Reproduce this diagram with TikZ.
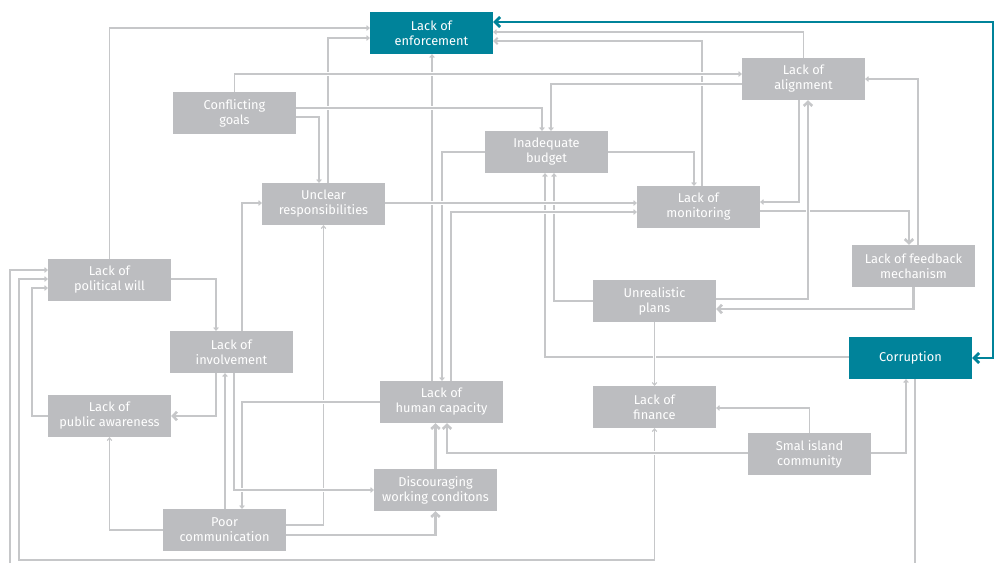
\documentclass[tikz,border=0pt]{standalone}
\usepackage{fontspec}
\setmainfont{Fira Sans}
\usetikzlibrary{arrows.meta}
\definecolor{boxc}{HTML}{BCBDC0}
\definecolor{lc}{HTML}{C6C7C9}
\definecolor{teal}{HTML}{00839A}
\begin{document}
\begin{tikzpicture}[x=1pt,y=-1pt,
  box/.style={fill=boxc, minimum width=123pt, minimum height=42pt, inner sep=0pt,
    text=white, align=center, font=\fontsize{12.8}{15}\selectfont},
  tbox/.style={box, fill=teal},
  halo/.style={preaction={draw=white, line width=#1, arrows=-}},
  ln/.style={draw=lc, line width=1.2pt, halo=3.2pt, -{Straight Barb[length=2.4pt,width=4.6pt]}},
  md/.style={draw=lc, line width=1.9pt, halo=4pt, -{Straight Barb[length=3.2pt,width=6.5pt]}},
  thk/.style={draw=lc, line width=2.6pt, halo=4.6pt, -{Straight Barb[length=4pt,width=8.5pt]}},
  tl/.style={draw=teal, line width=2.8pt, {Straight Barb[length=5pt,width=10pt]}-{Straight Barb[length=5pt,width=10pt]}},
  dbl/.style={ln, {Straight Barb[length=2.4pt,width=4.6pt]}-{Straight Barb[length=2.4pt,width=4.6pt]}},
  plain/.style={draw=lc, line width=1.2pt, halo=3.2pt}]
\useasboundingbox (0,0) rectangle (999,563);
% nodes
\node[tbox] (enf) at (431.5,33) {Lack of\\enforcement};
\node[box] (conf) at (234.5,113) {Conflicting\\goals};
\node[box] (align) at (803.5,79) {Lack of\\alignment};
\node[box] (budget) at (546.5,152) {Inadequate\\budget};
\node[box] (unclear) at (323.5,204) {Unclear\\responsibilities};
\node[box] (monit) at (698.5,207) {Lack of\\monitoring};
\node[box] (feed) at (913.5,266) {Lack of feedback\\mechanism};
\node[box] (polit) at (109.5,280) {Lack of\\political will};
\node[box] (unreal) at (654.5,301) {Unrealistic\\plans};
\node[box] (invol) at (231.5,352) {Lack of\\involvement};
\node[tbox] (corr) at (910.5,358) {Corruption};
\node[box] (human) at (441.5,402) {Lack of\\human capacity};
\node[box] (fin) at (654.5,407) {Lack of\\finance};
\node[box] (public) at (109.5,416) {Lack of\\public awareness};
\node[box] (small) at (809.5,454) {Smal island\\community};
\node[box] (disc) at (435.5,490) {Discouraging\\working conditons};
\node[box] (poor) at (224.5,530) {Poor\\communication};
\coordinate (bl) at (10,563);
\coordinate (br) at (915,563);
% connectors
\draw[tl] (enf.east |- 0,22) -- (993,22) -- (993,358) -- (corr.east);
\draw[ln] (polit.north) |- (enf.west |- 0,28);
\draw[ln] (unclear.north -| 328,0) |- (enf.west |- 0,38);
\draw[ln] (human.north -| 432,0) -- (enf.south -| 432,0);
\draw[ln] (budget.west) -| (human.north -| 442,0);
\draw[md] (monit.north -| 702,0) |- (enf.east |- 0,41);
\draw[ln] (align.north) |- (enf.east |- 0,32);
\draw[ln] (align.west |- 0,84) -| (budget.north -| 551,0);
\draw[ln] (conf.north) |- (align.west |- 0,74);
\draw[ln] (conf.east |- 0,108) -| (budget.north -| 542,0);
\draw[ln] (conf.east |- 0,117) -| (unclear.north -| 319,0);
\draw[ln] (budget.east) -| (monit.north -| 694,0);
\draw[ln] (align.south -| 799,0) |- (monit.east |- 0,202);
\draw[ln] (feed.north -| 918,0) |- (align.east);
\draw[thk] (monit.east |- 0,211) -| (feed.north -| 909,0);
\draw[ln] (unreal.west) -| (budget.south -| 554,0);
\draw[ln] (corr.west |- 0,357) -| (budget.south -| 545,0);
\draw[ln] (unreal.south) -- (fin.north);
\draw[ln] (unclear.east |- 0,203) -- (monit.west |- 0,203);
\draw[ln] (human.north -| 451,0) |- (monit.west |- 0,212);
\draw[thk] (unreal.east |- 0,299) -| (align.south -| 808,0);
\draw[thk] (feed.south) |- (unreal.east |- 0,309);
\draw[ln] (small.north) |- (fin.east |- 0,408);
\draw[ln] (small.east |- 0,453) -| (corr.south -| 906,0);
\draw[plain] (corr.south -| 915,0) -- (br);
\draw[dbl] (fin.south) |- (19,560) |- (polit.west |- 0,279);
\draw[thk] (small.west |- 0,453) -| (human.south -| 447,0);
\draw[thk] (disc.north) -- (human.south -| disc.north);
\draw[ln] (poor.east |- 0,525) -| (unclear.south);
\draw[thk] (poor.east |- 0,535) -| (disc.south);
\draw[ln] (bl) |- (polit.west |- 0,270);
\draw[ln] (public.west) -- (32,416) |- (polit.west |- 0,288);
\draw[ln] (polit.east |- 0,279) -| (invol.north -| 216,0);
\draw[ln] (invol.north -| 242,0) |- (unclear.west |- 0,203);
\draw[ln] (poor.north -| 225,0) -- (invol.south -| 225,0);
\draw[ln] (human.west) -| (poor.north -| 242,0);
\draw[ln] (invol.south -| 234,0) |- (disc.west);
\draw[thk] (invol.south -| 216,0) |- (public.east);
\draw[ln] (poor.west) -| (public.south);
\end{tikzpicture}
\end{document}
